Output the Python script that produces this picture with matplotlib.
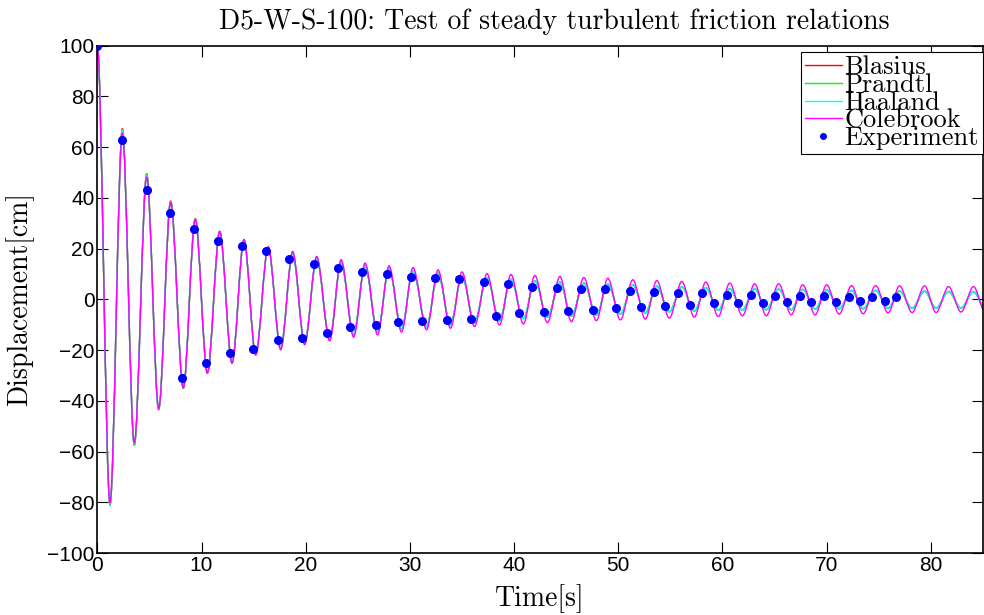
import matplotlib
matplotlib.use("Agg")
import matplotlib.pyplot as plt
from matplotlib import font_manager
from matplotlib.path import Path
from matplotlib.patches import PathPatch
from matplotlib.lines import Line2D

# times of the maxima / minima of the simulated curves [s]
t_ext = [0, 1.22, 2.40, 3.55, 4.74, 5.89, 7.04, 8.25, 9.40, 10.56,
         11.75, 12.93, 14.08, 15.20, 16.40, 17.60, 18.75, 19.90, 21.05, 22.30,
         23.40, 24.60, 25.70, 26.90, 28.00, 29.20, 30.30, 31.60, 32.70, 33.90,
         35.00, 36.20, 37.40, 38.60, 39.70, 40.90, 42.00, 43.20, 44.40, 45.50,
         46.70, 47.90, 49.00, 50.20, 51.40, 52.60, 53.70, 54.90, 56.10, 57.30,
         58.40, 59.60, 60.70, 61.90, 63.10, 64.20, 65.40, 66.60, 67.70, 68.90,
         70.00, 71.20, 72.40, 73.50, 74.70, 75.90, 77.00, 78.20, 79.40, 80.50,
         81.70, 82.90, 84.10, 85.20]

# extreme values [cm]
colebrook = [100, -80.3, 65.6, -56.6, 48.2, -43.0, 38.2, -34.8, 31.5, -29.1,
             26.8, -25.2, 23.6, -22.0, 20.8, -19.9, 18.9, -17.9, 16.9, -16.4,
             15.6, -14.9, 14.3, -14.0, 13.2, -12.9, 12.5, -12.0, 11.6, -11.4,
             10.8, -10.7, 10.1, -10.1, 9.8, -9.7, 9.4, -9.2, 9.0, -8.8,
             8.6, -8.4, 8.3, -8.1, 7.7, -7.8, 7.4, -7.4, 7.0, -7.0,
             6.8, -6.8, 6.4, -6.5, 6.1, -6.5, 6.1, -6.1, 5.7, -6.1,
             5.7, -5.8, 5.4, -5.7, 5.4, -5.4, 5.3, -5.2, 5.3, -5.2,
             5.0, -5.0, 5.0, -5.0]

haaland = [100, -80.8, 66.5, -57.0, 48.8, -43.2, 38.4, -34.9, 31.6, -29.0,
           26.7, -25.0, 23.3, -21.6, 20.4, -19.4, 18.3, -17.2, 16.2, -15.6,
           14.8, -14.0, 13.4, -13.0, 12.2, -11.8, 11.3, -10.8, 10.3, -10.0,
           9.4, -9.2, 8.6, -8.4, 7.9, -7.6, 7.3, -7.0, 6.8, -6.6,
           6.4, -6.2, 6.0, -5.8, 5.7, -5.3, 5.2, -4.9, 4.9, -4.6,
           4.5, -4.3, 4.2, -4.2, 4.2, -4.1, 4.0, -4.1, 3.9, -3.9,
           3.7, -3.7, 3.5, -3.7, 3.5, -3.6, 3.3, -3.5, 3.2, -3.5,
           3.1, -3.4, 3.0, -3.4]

blasius = [100, -81.2, 67.3, -57.5, 49.5, -43.6, 38.8, -35.1, 31.8] + haaland[9:]
prandtl = [100, -81.0, 67.0, -57.3, 49.2, -43.4, 38.6, -35.0, 31.7] + haaland[9:]

# measured displacement
t_exp = [0, 2.40, 4.74, 6.98, 8.10, 9.28, 10.43, 11.55, 12.73, 13.86,
         14.97, 16.16, 17.30, 18.43, 19.60, 20.80, 22.00, 23.10, 24.30, 25.40,
         26.70, 27.80, 28.90, 30.10, 31.20, 32.40, 33.60, 34.70, 35.90, 37.10,
         38.30, 39.40, 40.50, 41.70, 42.90, 44.10, 45.20, 46.40, 47.60, 48.70,
         49.80, 51.10, 52.20, 53.40, 54.50, 55.70, 56.90, 58.00, 59.20, 60.40,
         61.50, 62.70, 63.90, 65.00, 66.20, 67.40, 68.50, 69.70, 70.90, 72.10,
         73.20, 74.40, 75.60, 76.70]
y_exp = [100, 62.9, 42.9, 34.0, -31.1, 27.8, -25.0, 23.0, -21.0, 21.0,
         -19.7, 19.0, -16.0, 15.9, -15.1, 13.9, -13.1, 12.4, -11.0, 10.8,
         -10.1, 9.9, -9.0, 8.9, -8.5, 8.4, -8.1, 8.0, -7.6, 6.9,
         -6.5, 6.0, -5.4, 5.0, -5.0, 4.4, -4.5, 4.0, -4.1, 4.0,
         -3.6, 3.4, -3.1, 3.0, -2.6, 2.5, -2.1, 2.5, -1.5, 1.9,
         -1.5, 1.9, -1.5, 1.5, -1.1, 1.5, -1.1, 1.5, -1.1, 1.1,
         -0.6, 0.9, -0.6, 0.9]

models = [("Blasius", blasius, "#ff0000"),
          ("Prandtl", prandtl, "#00ff00"),
          ("Haaland", haaland, "#00ffff"),
          ("Colebrook", colebrook, "#ff00ff")]


def swing_path(t, y):
    # smooth curve through the extrema, flat at each max/min
    verts = [(t[0], y[0])]
    codes = [Path.MOVETO]
    for i in range(1, len(t)):
        dt = t[i] - t[i - 1]
        verts += [(t[i - 1] + dt / 3, y[i - 1]), (t[i] - dt / 3, y[i]), (t[i], y[i])]
        codes += [Path.CURVE4] * 3
    return Path(verts, codes)


cm = "cmr10"
names = {f.name for f in font_manager.fontManager.ttflist}
if "Liberation Sans Narrow" in names:
    tick_font, tick_size = "Liberation Sans Narrow", 17
else:
    tick_font, tick_size = "Liberation Sans", 15

fig = plt.figure(figsize=(9.84, 6.15), dpi=100)
ax = fig.add_axes([0.0989, 0.1008, 0.9, 0.825])

handles = []
for name, vals, col in models:
    ax.add_patch(PathPatch(swing_path(t_ext, vals), facecolor="none",
                           edgecolor=col, lw=1.0, zorder=2))
    handles.append(Line2D([], [], color=col, lw=1.0, label=name))

ax.plot(t_exp, y_exp, "o", color="#0000ff", markersize=5.5, zorder=3)
handles.append(Line2D([], [], color="#0000ff", marker="o", ls="",
                      markersize=4, label="Experiment"))

ax.set_xlim(0, 85)
ax.set_ylim(-100, 100)
ax.set_xticks(range(0, 81, 10))
ax.set_yticks(range(-100, 101, 20))
ax.tick_params(direction="in", length=8, width=0.8, top=True, right=True,
               labelsize=tick_size, pad=2)
for lab in ax.get_xticklabels() + ax.get_yticklabels():
    lab.set_family(tick_font)
for s in ax.spines.values():
    s.set_linewidth(1.2)

ax.set_title("D5-W-S-100: Test of steady turbulent friction relations",
             family=cm, fontsize=20, x=0.516, pad=12)
ax.set_xlabel("Time[s]", family=cm, fontsize=20)
ax.set_ylabel("Displacement[cm]", family=cm, fontsize=20)
ax.xaxis.set_label_coords(0.5, -0.062)
ax.yaxis.set_label_coords(-0.071, 0.5)

leg = ax.legend(handles=handles, loc="upper right", bbox_to_anchor=(1.0, 0.988),
                borderaxespad=0, prop={"family": cm, "size": 19},
                labelspacing=-0.23, handlelength=1.4, handletextpad=0.1,
                borderpad=0.15, fancybox=False, framealpha=1)
leg.get_frame().set_edgecolor("black")
leg.get_frame().set_linewidth(0.8)

fig.savefig("out.png", dpi=100)
